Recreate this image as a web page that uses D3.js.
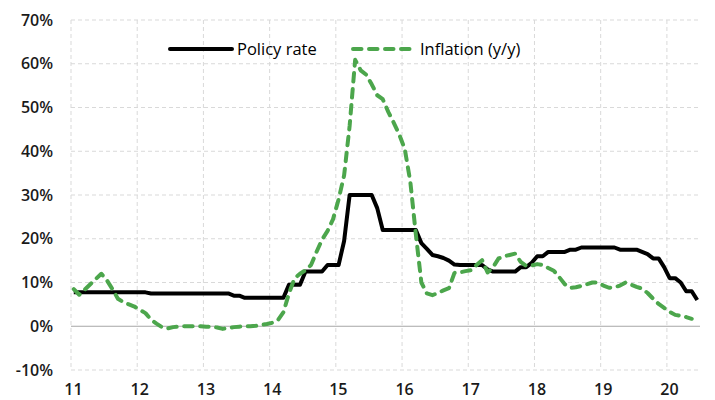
<!DOCTYPE html>
<html><head><meta charset="utf-8">
<script src="https://cdn.jsdelivr.net/npm/d3@7"></script>
<style>body{margin:0;background:#fff}</style>
</head><body><svg id="c" width="715" height="400"></svg>
<script>
// monthly data, Jan 2011 onwards (x axis in two-digit years)
const startYear = 11;
const policyRate = [
  7.75,7.75,7.75,7.75,7.75,7.75,7.75,7.75,7.75,7.75,7.75,7.75,
  7.75,7.75,7.5,7.5,7.5,7.5,7.5,7.5,7.5,7.5,7.5,7.5,
  7.5,7.5,7.5,7.5,7.5,7.0,7.0,6.5,6.5,6.5,6.5,6.5,
  6.5,6.5,6.5,9.5,9.5,9.5,12.5,12.5,12.5,12.5,14,14,
  14,19.5,30,30,30,30,30,27,22,22,22,22,
  22,22,22,19,17.7,16.3,16.0,15.6,15.0,14.1,14,14,
  14,14,14,13,12.5,12.5,12.5,12.5,12.5,13.5,13.5,14.5,
  16,16,17,17,17,17,17.5,17.5,18,18,18,18,
  18,18,18,17.5,17.5,17.5,17.5,17,16.5,15.5,15.5,13.5,
  11,11,10,8,8,6
];
const inflation = [
  8.5,7.2,8.4,9.6,10.8,12.0,10.5,8.5,6.3,5.5,5.0,4.5,
  3.7,3.0,1.5,0.6,-0.2,-0.5,-0.2,-0.1,0.0,0.0,0.0,0.0,
  -0.1,-0.1,-0.3,-0.6,-0.4,-0.2,-0.1,0.0,0.0,0.1,0.3,0.5,
  0.8,1.4,3.2,7.5,10.9,12.0,12.8,14.0,17.0,19.8,21.8,24.5,
  29.0,34.5,45.8,60.9,58.5,57.5,55.3,52.8,51.9,49.0,46.5,43.8,
  40.5,33.0,21.0,10.0,7.5,7.1,7.6,8.2,8.7,12.2,12.3,12.6,
  12.8,14.0,15.1,12.3,13.5,15.5,16.0,16.3,16.6,14.7,13.8,13.9,
  14.2,14.0,13.3,12.7,11.2,9.6,8.8,8.9,9.2,9.6,10.0,10.0,
  9.3,8.8,8.9,9.3,10.0,9.5,9.0,8.6,7.6,6.3,5.1,4.2,
  3.3,2.6,2.4,2.1,1.7
];
const yTicks = [-10,0,10,20,30,40,50,60,70];
const xTicks = [11,12,13,14,15,16,17,18,19,20];
const seriesNames = ["Policy rate", "Inflation (y/y)"];
const seriesColors = ["#000000", "#4ca64c"];

const W = 715, H = 400;
const m = {l: 71, r: 15, t: 20, b: 30};
const svg = d3.select("#c");
const x = d3.scaleLinear().domain([11, 20.5]).range([m.l, W - m.r]);
const y = d3.scaleLinear().domain([-10, 70]).range([H - m.b, m.t]);
const t = i => startYear + (i + 0.5) / 12;

const font = "'Open Sans', sans-serif";

// grid
const g = svg.append("g");
g.selectAll(".vg").data(xTicks).join("line")
  .attr("x1", d => x(d)).attr("x2", d => x(d))
  .attr("y1", y(70)).attr("y2", y(-10))
  .attr("stroke", "#d9d9d9").attr("stroke-dasharray", "4,3");
g.selectAll(".hg").data(yTicks.filter(d => d !== 0)).join("line")
  .attr("x1", x(11)).attr("x2", x(20.5))
  .attr("y1", d => y(d)).attr("y2", d => y(d))
  .attr("stroke", "#d9d9d9").attr("stroke-dasharray", "4,3");
g.append("line").attr("x1", x(11)).attr("x2", x(20.5))
  .attr("y1", y(0)).attr("y2", y(0)).attr("stroke", "#a6a6a6");

// axes
const ya = svg.append("g").attr("transform", `translate(${m.l},0)`)
  .call(d3.axisLeft(y).tickValues(yTicks).tickFormat(d => d + "%").tickSize(0).tickPadding(18));
const xa = svg.append("g").attr("transform", `translate(0,${H - m.b})`)
  .call(d3.axisBottom(x).tickValues(xTicks).tickFormat(d => d).tickSize(0).tickPadding(14));
[ya, xa].forEach(a => {
  a.select(".domain").remove();
  a.selectAll("text").attr("font-family", font).attr("font-size", 16)
    .attr("font-weight", 600).attr("fill", "#1a1a1a");
});
xa.selectAll("text").attr("dx", 2);

// lines
const line = d3.line().x((d, i) => x(t(i))).y(d => y(d));
svg.append("path").datum(policyRate).attr("d", line)
  .attr("fill", "none").attr("stroke", seriesColors[0]).attr("stroke-width", 4)
  .attr("stroke-linejoin", "round");
svg.append("path").datum(inflation).attr("d", line)
  .attr("fill", "none").attr("stroke", seriesColors[1]).attr("stroke-width", 4)
  .attr("stroke-linejoin", "round").attr("stroke-linecap", "round")
  .attr("stroke-dasharray", "8.5,7.5");

// legend
const leg = [{x1: 170, x2: 232, tx: 237}, {x1: 353, x2: 415, tx: 420}];
seriesNames.forEach((n, i) => {
  const L = leg[i];
  const ln = svg.append("line").attr("x1", L.x1).attr("x2", L.x2).attr("y1", 49).attr("y2", 49)
    .attr("stroke", seriesColors[i]).attr("stroke-width", 4).attr("stroke-linecap", "round");
  if (i === 1) ln.attr("stroke-dasharray", "8.5,7.5");
  svg.append("text").attr("x", L.tx).attr("y", 55).text(n)
    .attr("font-family", font).attr("font-size", 16.5).attr("fill", "#000");
});
</script>
</body></html>
